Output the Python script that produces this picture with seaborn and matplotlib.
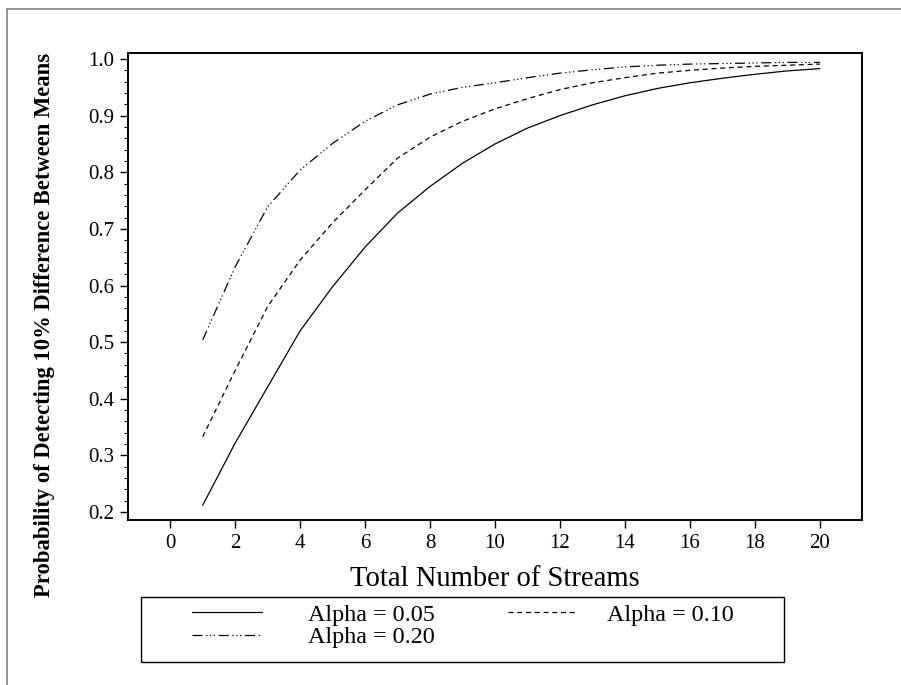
import matplotlib
matplotlib.use("Agg")
import matplotlib.pyplot as plt
from matplotlib.lines import Line2D
from matplotlib.patches import Rectangle
from matplotlib.ticker import MultipleLocator
import seaborn as sns
import pandas as pd

streams = list(range(1, 21))
alpha_05 = [0.212, 0.322, 0.421, 0.520, 0.598, 0.668, 0.728, 0.775, 0.816, 0.850,
            0.878, 0.900, 0.919, 0.935, 0.948, 0.958, 0.966, 0.973, 0.979, 0.983]
alpha_10 = [0.333, 0.450, 0.563, 0.645, 0.711, 0.769, 0.825, 0.862, 0.890, 0.912,
            0.930, 0.946, 0.958, 0.967, 0.975, 0.980, 0.984, 0.987, 0.989, 0.991]
alpha_20 = [0.504, 0.633, 0.739, 0.804, 0.851, 0.890, 0.919, 0.938, 0.950, 0.958,
            0.967, 0.975, 0.981, 0.986, 0.989, 0.991, 0.992, 0.993, 0.994, 0.994]
labels = ["Alpha = 0.05", "Alpha = 0.10", "Alpha = 0.20"]
x_ticks = [0, 2, 4, 6, 8, 10, 12, 14, 16, 18, 20]
y_ticks = [0.2, 0.3, 0.4, 0.5, 0.6, 0.7, 0.8, 0.9, 1.0]

sns.set_theme(style="white")
plt.rcParams["font.family"] = ["Liberation Serif", "DejaVu Serif"]

W, H = 901, 685
fig = plt.figure(figsize=(W / 100, H / 100), dpi=100)
ax = fig.add_axes([128 / W, 1 - 520 / H, (862 - 128) / W, (520 - 53) / H])

styles = ["-", (0, (4, 3)), (0, (8, 3, 1, 2, 1, 2, 1, 3))]
series = [alpha_05, alpha_10, alpha_20]
handles = []
for vals, lab, ls in zip(series, labels, styles):
    df = pd.DataFrame({"x": streams, "y": vals})
    sns.lineplot(data=df, x="x", y="y", ax=ax, color="black", linewidth=0.9,
                 linestyle=ls, legend=False)
    handles.append(Line2D([], [], color="black", linewidth=0.9, linestyle=ls))

ax.set_xlim(-1.3, 21.3)
ax.set_ylim(0.186, 1.0106)
ax.set_xticks(x_ticks)
ax.set_yticks(y_ticks)
ax.set_xticklabels([str(v) for v in x_ticks])
ax.set_yticklabels([f"{v:.1f}" for v in y_ticks])
ax.yaxis.set_minor_locator(MultipleLocator(0.02))
ax.tick_params(axis="both", which="major", direction="out", length=6, width=1,
               color="black", labelsize=15, labelcolor="black", pad=4,
               bottom=True, left=True)
ax.tick_params(axis="y", which="minor", direction="out", length=3, width=0.8,
               color="black", left=True)
for sp in ax.spines.values():
    sp.set_color("black")
    sp.set_linewidth(1.4)
    sp.set_visible(True)

ax.set_xlabel("Total Number of Streams", fontsize=20.6, color="black", labelpad=9.5)
ax.set_ylabel("")
fig.text(45 / W, 1 - 324.5 / H, "Probability of Detecting 10% Difference Between Means",
         rotation=90, ha="center", va="center", fontsize=16.3, fontweight="bold",
         color="black")

# legend box
fig.add_artist(Rectangle((141 / W, 1 - 662 / H), (784 - 141) / W, (662 - 597) / H,
                         transform=fig.transFigure, fill=False, edgecolor="black",
                         linewidth=1.0))
leg1 = fig.legend([handles[0], handles[2]], [labels[0], labels[2]],
                  loc="upper left", bbox_to_anchor=(192 / W, 1 - 604 / H),
                  bbox_transform=fig.transFigure, ncol=1, frameon=False,
                  fontsize=17.4, handlelength=2.9, handletextpad=1.9,
                  labelspacing=0.02, borderpad=0, borderaxespad=0)
leg2 = fig.legend([handles[1]], [labels[1]],
                  loc="upper left", bbox_to_anchor=(508 / W, 1 - 604 / H),
                  bbox_transform=fig.transFigure, ncol=1, frameon=False,
                  fontsize=17.4, handlelength=2.9, handletextpad=1.2,
                  borderpad=0, borderaxespad=0)
for lg in (leg1, leg2):
    for t in lg.get_texts():
        t.set_color("black")

# outer frame (left and top edges visible)
fig.add_artist(Line2D([6.5 / W, 6.5 / W], [0, 1 - 8.5 / H], transform=fig.transFigure,
                      color="#7f7f7f", linewidth=1.2))
fig.add_artist(Line2D([6.5 / W, 1], [1 - 8.5 / H, 1 - 8.5 / H], transform=fig.transFigure,
                      color="#7f7f7f", linewidth=1.2))

fig.savefig("out.png", dpi=100, facecolor="white")
